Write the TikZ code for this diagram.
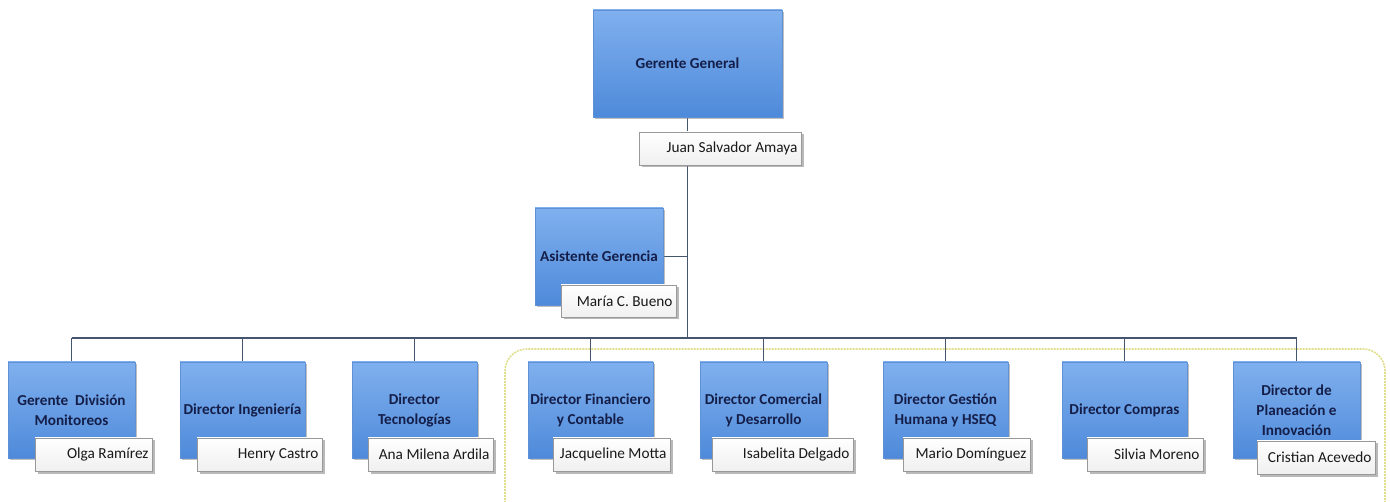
\documentclass[tikz,border=0pt]{standalone}
\usepackage{fontspec}
\setmainfont{Carlito}
\usetikzlibrary{shadows,backgrounds}
\definecolor{boxtop}{RGB}{128,176,238}
\definecolor{boxmid}{RGB}{170,205,246}
\definecolor{boxbot}{RGB}{78,138,218}
\definecolor{boxline}{RGB}{95,145,215}
\definecolor{navy}{RGB}{20,30,72}
\definecolor{wirecol}{RGB}{70,85,110}
\definecolor{framecol}{RGB}{222,222,140}
\tikzset{
  role/.style={draw=boxline, line width=0.8pt, top color=boxtop, middle color=boxmid, bottom color=boxbot,
    drop shadow={shadow xshift=2pt, shadow yshift=-2.5pt, opacity=0.5},
    align=center, inner sep=2pt, text=navy,
    font=\bfseries\fontsize{15.2}{20}\selectfont},
  person/.style={draw=gray!80, line width=0.8pt, top color=white, bottom color=gray!12,
    drop shadow={shadow xshift=2.5pt, shadow yshift=-2.5pt, opacity=0.55},
    align=right, inner xsep=3.5pt, inner ysep=2pt, text width=#1, minimum height=33,
    text=black!90, font=\fontsize{15.3}{17}\selectfont,
    execute at begin node={\spaceskip=0.23em\relax}},
  wire/.style={draw=wirecol, line width=1.5pt},
  bus/.style={draw=wirecol, line width=2.2pt},
  groupframe/.style={draw=framecol, line width=1.6pt, dash pattern=on 2pt off 1pt, rounded corners=22pt}
}
\begin{document}
\begin{tikzpicture}[x=1pt,y=-1pt]
\useasboundingbox (0,0) rectangle (1390,502);
% top
\node[role, minimum width=189, minimum height=107] (gg) at (687.5,63.5) {Gerente General};
\node[person=155] (ggn) at (720,148.5) {Juan Salvador Amaya};
% assistant
\node[role, minimum width=128, minimum height=97] (ag) at (599,256.5) {Asistente Gerencia};
\node[person=108, minimum height=32] (agn) at (618.5,301) {María C. Bueno};
% bottom row
\node[role, minimum width=127, minimum height=96] (b1) at (71.5,410) {Gerente~ División\\Monitoreos};
\node[person=110] (n1) at (93.5,454.5) {Olga Ramírez};
\node[role, minimum width=125, minimum height=96] (b2) at (242.5,410) {Director Ingeniería};
\node[person=118] (n2) at (259.5,454.5) {Henry Castro};
\node[role, minimum width=125, minimum height=96] (b3) at (414.5,410) {Director\\Tecnologías};
\node[person=118] (n3) at (430.5,454.5) {Ana Milena Ardila};
\node[role, minimum width=125, minimum height=96] (b4) at (590.5,410) {Director Financiero\\y Contable};
\node[person=110] (n4) at (611.5,454.5) {Jacqueline Motta};
\node[role, minimum width=127, minimum height=96] (b5) at (763.5,410) {Director Comercial\\y Desarrollo};
\node[person=134] (n5) at (782.5,454.5) {Isabelita Delgado};
\node[role, minimum width=125, minimum height=96] (b6) at (945.5,410) {Director Gestión\\Humana y HSEQ};
\node[person=120] (n6) at (966.5,454.5) {Mario Domínguez};
\node[role, minimum width=125, minimum height=96] (b7) at (1124.5,410) {Director Compras};
\node[person=109] (n7) at (1145,454.5) {Silvia Moreno};
\node[role, minimum width=127, minimum height=96] (b8) at (1296.5,410) {Director de\\Planeación e\\Innovación};
\node[person=111] (n8) at (1316,457.5) {Cristian Acevedo};
\coordinate (busc) at (687.5,338);
\begin{pgfonlayer}{background}
\draw[groupframe] (505,503) -- (505,349) -- (1385,349) -- (1385,503);
\draw[wire] (gg.south) -- (gg.south |- busc);
\draw[wire] (ag.east) -- (ag.east -| busc);
\draw[bus] (b1.north |- busc) -- (b8.north |- busc);
\foreach \b in {b1,b2,b3,b4,b5,b6,b7,b8}
  \draw[wire] (\b.north) -- (\b.north |- busc);
\end{pgfonlayer}
\end{tikzpicture}
\end{document}
